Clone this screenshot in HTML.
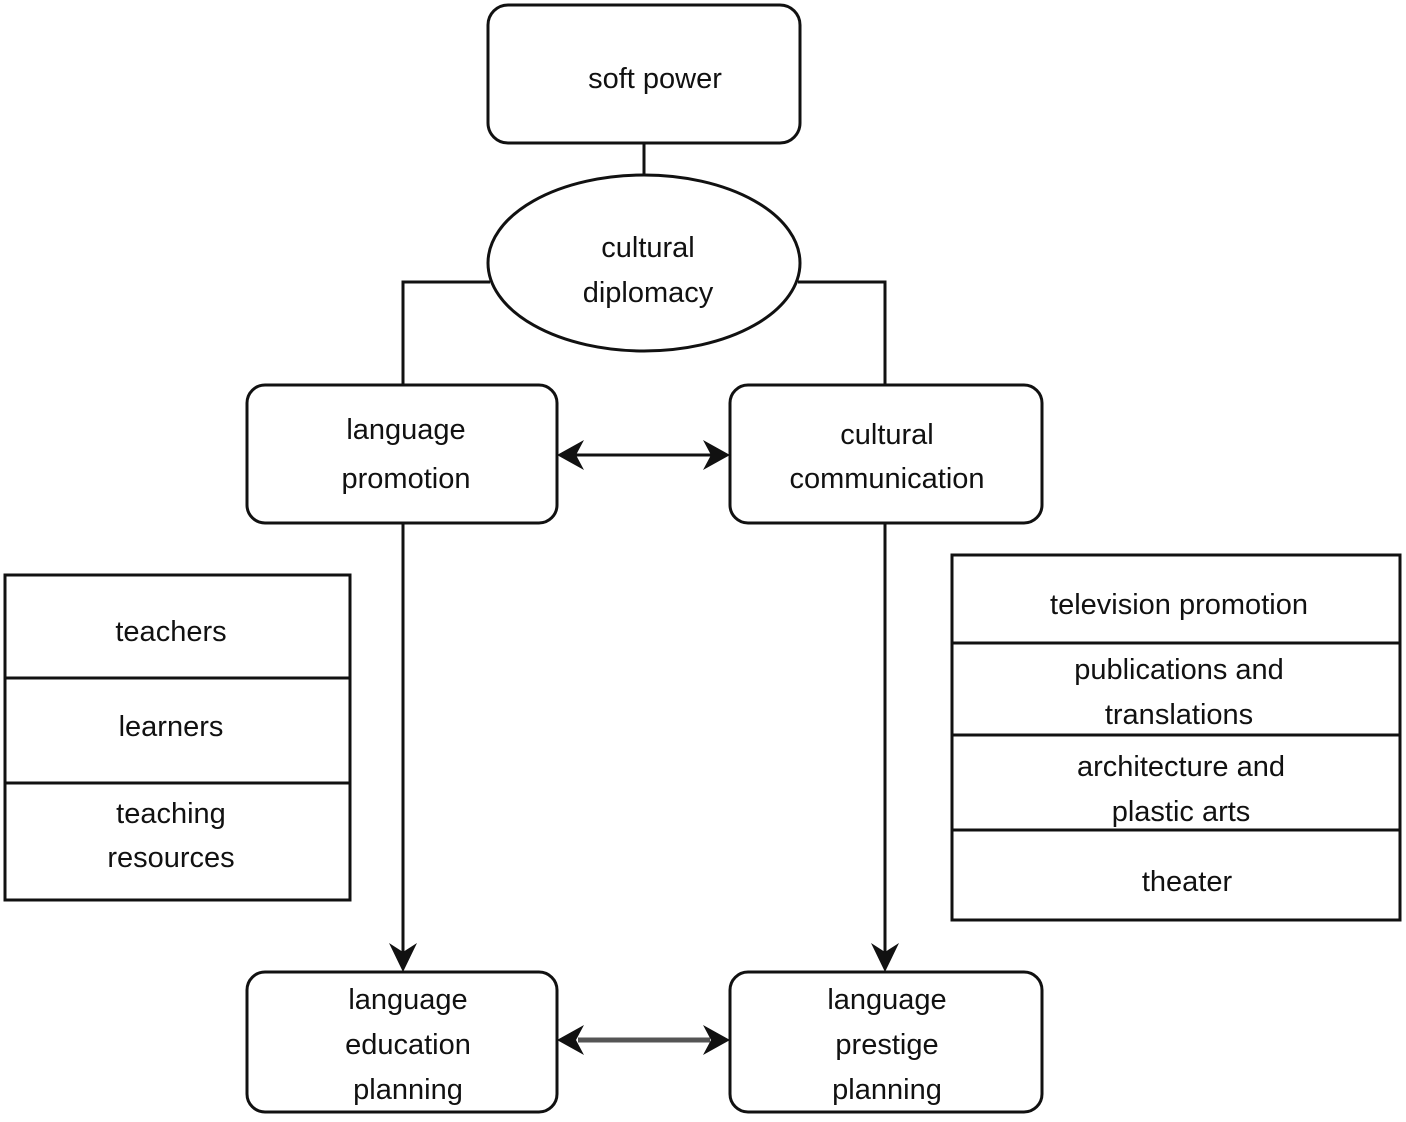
<!DOCTYPE html>
<html><head><style>
body{margin:0;background:#fff}
svg text{font-family:"Liberation Sans",sans-serif;font-size:29px;fill:#111;text-anchor:middle}
</style></head><body>
<svg width="1406" height="1117" viewBox="0 0 1406 1117" xmlns="http://www.w3.org/2000/svg">
<defs>
<marker id="a" markerWidth="10" markerHeight="10" refX="9" refY="5" orient="auto" markerUnits="userSpaceOnUse" viewBox="0 0 10 10">
</marker>
</defs>
<g fill="none" stroke="#111" stroke-width="3">
<rect x="488" y="5" width="312" height="138" rx="20"/>
<line x1="644" y1="143" x2="644" y2="175"/>
<ellipse cx="644" cy="263" rx="156" ry="88"/>
<polyline points="490,282 403,282 403,385"/>
<polyline points="798,282 885,282 885,385"/>
<rect x="247" y="385" width="310" height="138" rx="18"/>
<rect x="730" y="385" width="312" height="138" rx="18"/>
<line x1="575" y1="455" x2="712" y2="455"/>
<line x1="403" y1="523" x2="403" y2="955"/>
<line x1="885" y1="523" x2="885" y2="955"/>
<rect x="247" y="972" width="310" height="140" rx="18"/>
<rect x="730" y="972" width="312" height="140" rx="18"/>
<line x1="578" y1="1040" x2="710" y2="1040" stroke="#555" stroke-width="5"/>
<rect x="5" y="575" width="345" height="325"/>
<line x1="5" y1="678" x2="350" y2="678"/>
<line x1="5" y1="783" x2="350" y2="783"/>
<rect x="952" y="555" width="448" height="365"/>
<line x1="952" y1="643" x2="1400" y2="643"/>
<line x1="952" y1="735" x2="1400" y2="735"/>
<line x1="952" y1="830" x2="1400" y2="830"/>
</g>
<g fill="#111">
<polygon points="557,455 584,440 576,455 584,470"/>
<polygon points="730,455 703,440 711,455 703,470"/>
<polygon points="557,1040 584,1025 576,1040 584,1055"/>
<polygon points="730,1040 703,1025 711,1040 703,1055"/>
<polygon points="403,972 389,943 403,952 417,943"/>
<polygon points="885,972 871,943 885,952 899,943"/>
</g>
<text x="655" y="88">soft power</text>
<text x="648" y="257">cultural</text>
<text x="648" y="302">diplomacy</text>
<text x="406" y="439">language</text>
<text x="406" y="488">promotion</text>
<text x="887" y="444">cultural</text>
<text x="887" y="488">communication</text>
<text x="408" y="1009">language</text>
<text x="408" y="1054">education</text>
<text x="408" y="1099">planning</text>
<text x="887" y="1009">language</text>
<text x="887" y="1054">prestige</text>
<text x="887" y="1099">planning</text>
<text x="171" y="641">teachers</text>
<text x="171" y="736">learners</text>
<text x="171" y="823">teaching</text>
<text x="171" y="867">resources</text>
<text x="1179" y="614">television promotion</text>
<text x="1179" y="679">publications and</text>
<text x="1179" y="724">translations</text>
<text x="1181" y="776">architecture and</text>
<text x="1181" y="821">plastic arts</text>
<text x="1187" y="891">theater</text>
</svg>
</body></html>
